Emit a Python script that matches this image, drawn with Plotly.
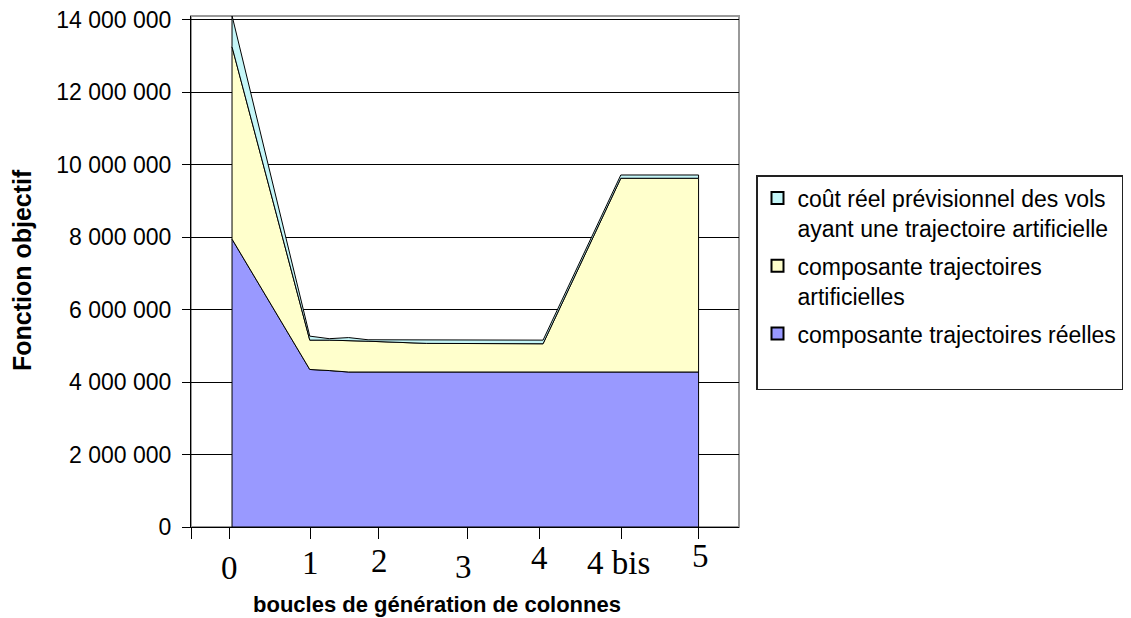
import plotly.graph_objects as go

# ---- data -----------------------------------------------------------
# sub-steps of the column-generation process (horizontal position index)
steps = [0, 4, 5, 6, 7, 10, 16, 20, 24]

# series values (objective function components)
reelles = [7.95e6, 4.35e6, 4.32e6, 4.28e6, 4.28e6, 4.28e6, 4.28e6, 4.28e6, 4.28e6]
artificielles = [5.31e6, 0.81e6, 0.84e6, 0.87e6, 0.85e6, 0.79e6, 0.78e6, 5.35e6, 5.35e6]
cout_reel = [0.86e6, 0.11e6, 0.04e6, 0.08e6, 0.04e6, 0.10e6, 0.10e6, 0.09e6, 0.09e6]

series_names = [
    "composante trajectoires réelles",
    "composante trajectoires<br>artificielles",
    "coût réel prévisionnel des vols<br>ayant une trajectoire artificielle",
]
series_colors = ["#9999FF", "#FFFFCC", "#C4F6F8"]

# x-axis tick marks and loop labels
tick_steps = [-2.11, -0.15, 4.06, 7.56, 12.09, 15.84, 20.01, 24.02]
loop_labels = ["0", "1", "2", "3", "4", "4 bis", "5"]
label_steps = [-0.15, 4.06, 7.6, 11.93, 15.84, 19.86, 24.1]
label_drop = [41, 36, 34, 40, 31, 36, 29]  # px below the axis

# ---- figure ---------------------------------------------------------
fig = go.Figure()
layers = [reelles, artificielles, cout_reel]
bottom = [0.0] * len(steps)
for name, vals, col in zip(series_names, layers, series_colors):
    top = [b + v for b, v in zip(bottom, vals)]
    xs = list(steps) + list(reversed(steps)) + [steps[0]]
    ys = top + list(reversed(bottom)) + [top[0]]
    fig.add_trace(go.Scatter(
        x=xs, y=ys, mode="lines", fill="toself", fillcolor=col,
        line=dict(color="black", width=1), name=name,
        showlegend=False, hoverinfo="skip",
    ))
    bottom = top

# legend entries (square swatches like the original), top series first
for name, col in zip(reversed(series_names), reversed(series_colors)):
    fig.add_trace(go.Scatter(
        x=[None], y=[None], mode="markers", name=name, legendgroup=name,
        marker=dict(symbol="square", size=11, color=col,
                    line=dict(color="black", width=1)),
    ))
# spacer entry giving the legend box its empty bottom row
fig.add_trace(go.Scatter(
    x=[None], y=[None], mode="markers", name=" ", legendgroup=series_names[0],
    marker=dict(size=1, color="rgba(0,0,0,0)"), hoverinfo="skip",
))

annotations = []
for lab, xs_, dy in zip(loop_labels, label_steps, label_drop):
    annotations.append(dict(
        x=xs_, y=0, xref="x", yref="paper", text=lab, showarrow=False,
        yanchor="middle", xanchor="center", yshift=-dy,
        font=dict(family="Liberation Serif", size=33, color="black"),
    ))
annotations.append(dict(
    x=(437 - 191) / 548, y=0, xref="paper", yref="paper",
    text="<b>boucles de génération de colonnes</b>", showarrow=False,
    yanchor="middle", xanchor="center", yshift=-77,
    font=dict(family="Liberation Sans", size=22, color="black"),
))
annotations.append(dict(
    x=0, y=(527 - 270) / 511, xref="paper", yref="paper",
    text="<b>Fonction objectif</b>", showarrow=False, textangle=-90,
    xanchor="center", yanchor="middle", xshift=-169,
    font=dict(family="Liberation Sans", size=25, color="black"),
))

fig.update_layout(
    width=1123, height=610,
    margin=dict(l=183, r=392, t=8, b=91, autoexpand=False),
    paper_bgcolor="white", plot_bgcolor="white",
    separators=", ",
    showlegend=True,
    legend=dict(
        x=(756 - 191) / 548, y=(527 - 175) / 511, xanchor="left", yanchor="top",
        bgcolor="white", bordercolor="#222222", borderwidth=1.5,
        font=dict(family="Liberation Sans", size=23, color="black"),
        traceorder="grouped", tracegroupgap=5, valign="top",
        itemsizing="constant",
    ),
    xaxis=dict(
        range=[-2.11, 26.08], showgrid=False, zeroline=False,
        showline=True, linecolor="black", linewidth=1,
        ticks="outside", ticklen=11, tickcolor="black",
        tickvals=tick_steps, showticklabels=False, automargin=False,
    ),
    yaxis=dict(
        range=[0, 14.11e6], dtick=2e6, tick0=0, tickformat=",d",
        showgrid=True, gridcolor="black", gridwidth=1, zeroline=False,
        showline=True, linecolor="black", linewidth=1,
        ticks="outside", ticklen=8, tickcolor="black", ticklabelstandoff=6,
        ticklabeloverflow="allow", automargin=False,
        tickfont=dict(family="Liberation Sans", size=23, color="black"),
    ),
    shapes=[dict(type="rect", xref="paper", yref="paper", x0=0, x1=1, y0=0, y1=1,
                 line=dict(color="#999999", width=2), layer="below")],
    annotations=annotations,
)

fig.write_html("out.html")
